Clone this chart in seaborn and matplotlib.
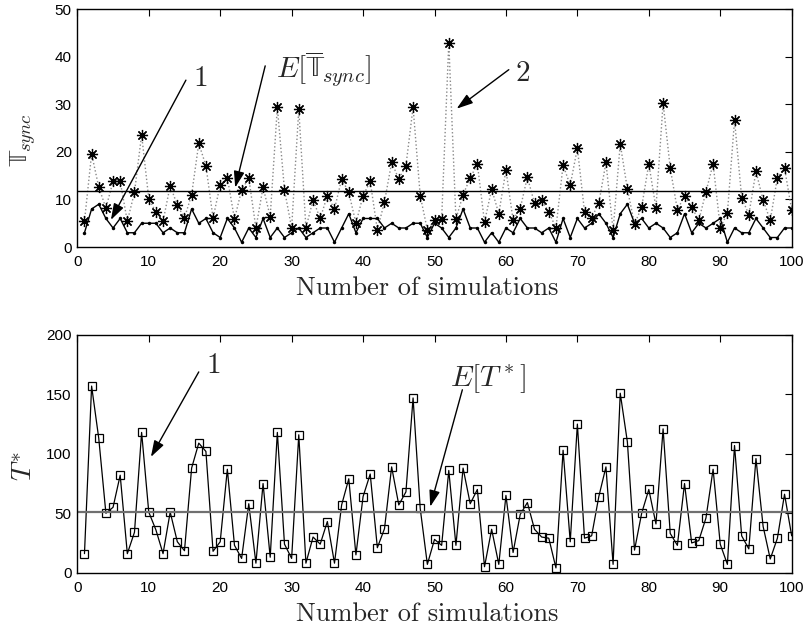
import numpy as np
import pandas as pd
import matplotlib
matplotlib.use('Agg')
import matplotlib.pyplot as plt
import seaborn as sns

# simulation index
sims = np.arange(1, 101)

# T_sync per simulation (asterisks, dotted)
t_sync = [5.4, 19.6, 12.6, 8.2, 13.8, 13.8, 5.4, 11.5, 23.6, 10.2,
          7.3, 5.4, 12.9, 8.8, 6.1, 11.0, 21.8, 17.1, 6.1, 13.1,
          14.6, 5.9, 12.0, 14.5, 4.0, 12.6, 6.4, 29.4, 12.0, 4.0,
          29.0, 4.0, 9.9, 6.0, 10.8, 8.0, 14.3, 11.5, 5.0, 10.8,
          13.8, 3.6, 9.5, 17.8, 14.3, 17.1, 29.4, 10.8, 3.6, 5.6,
          5.9, 43.0, 5.9, 11.0, 14.5, 17.5, 5.2, 12.2, 7.0, 16.2,
          5.7, 8.1, 14.7, 9.2, 9.9, 7.4, 4.0, 17.2, 13.0, 20.8,
          7.4, 6.2, 9.2, 17.8, 3.5, 21.7, 12.2, 4.8, 8.4, 17.5,
          8.2, 30.3, 16.6, 7.8, 10.8, 8.4, 5.6, 11.6, 17.5, 4.1,
          7.1, 26.7, 10.4, 6.8, 15.9, 9.9, 5.6, 14.6, 16.6, 7.8]

# lower curve (solid line with dots)
t_low = [3, 8, 9, 6, 4, 6, 3, 3, 5, 5,
         5, 3, 4, 3, 3, 8, 5, 6, 3, 2,
         6, 4, 1, 4, 2, 6, 2, 4, 2, 3,
         4, 2, 3, 4, 4, 1, 4, 7, 3, 6,
         6, 6, 4, 5, 4, 4, 5, 5, 2, 5,
         4, 2, 4, 8, 4, 4, 1, 3, 1, 4,
         3, 6, 4, 4, 3, 4, 1, 6, 2, 6,
         4, 5, 7, 5, 2, 7, 9, 5, 6, 4,
         5, 4, 2, 3, 7, 3, 5, 4, 5, 6,
         1, 4, 3, 3, 6, 4, 2, 2, 4, 4]

# T* per simulation (squares)
t_star = [16, 157, 113, 50, 55, 82, 16, 34, 118, 51,
          36, 16, 51, 26, 18.5, 88, 109, 102, 18, 26,
          87, 23, 12, 58, 8, 75, 13, 118, 24, 12,
          116, 8, 30, 24, 43, 8, 57, 79, 15, 64,
          83, 21, 37, 89, 57, 68, 147, 54, 7, 28,
          23, 86, 23, 88, 58, 70, 5, 36.5, 7, 65,
          17, 49, 59, 36.5, 30, 29, 4, 103, 26, 125,
          29, 31, 64, 89, 7, 151, 110, 19, 50, 70,
          41, 121, 33, 23, 75, 25, 27, 46, 87, 24,
          7, 107, 31, 20, 96, 39, 11.5, 29, 66, 31]

df = pd.DataFrame({'sim': sims, 't_sync': t_sync, 't_low': t_low, 't_star': t_star})

sns.set_style('white')
plt.rcParams['font.family'] = ['Liberation Sans', 'DejaVu Sans']
plt.rcParams['mathtext.fontset'] = 'cm'

fig, (ax1, ax2) = plt.subplots(2, 1, figsize=(8.08, 6.33), dpi=100)
fig.subplots_adjust(left=0.0957, right=0.9798, top=0.9853, bottom=0.0953, hspace=0.37)

arrow = dict(arrowstyle='-|>,head_length=0.55,head_width=0.18', color='k', lw=1,
             mutation_scale=18, shrinkA=0, shrinkB=0)
lbl_font = dict(fontfamily='cmr10', fontsize=19)

# ---- top panel ----
sns.lineplot(data=df, x='sim', y='t_sync', ax=ax1, color='#888888', lw=1, linestyle=':',
             marker=(8, 2, 0), markersize=8, markeredgecolor='k', markeredgewidth=0.9)
sns.lineplot(data=df, x='sim', y='t_low', ax=ax1, color='k', lw=1,
             marker='o', markersize=2.5, markeredgewidth=0)
ax1.axhline(np.mean(t_sync), color='k', lw=1)

ax1.set_xlim(0, 100)
ax1.set_ylim(0, 50)
ax1.set_xticks(range(0, 101, 10))
ax1.set_yticks(range(0, 51, 10))
ax1.set_xlabel('Number of simulations', **lbl_font)
ax1.set_ylabel(r'$\mathrm{\mathbb{T}}_{sync}$', fontsize=19)

ax1.text(17.2, 35.6, r'$1$', fontsize=21, ha='center', va='center')
ax1.annotate('', xy=(4.7, 5.7), xytext=(15.2, 35.1), arrowprops=arrow)
ax1.text(34.5, 37.5, r'$E[\overline{\mathrm{\mathbb{T}}}_{sync}]$', fontsize=21,
         ha='center', va='center')
ax1.annotate('', xy=(22.1, 12.5), xytext=(26.3, 38.1), arrowprops=arrow)
ax1.text(62.3, 36.6, r'$2$', fontsize=21, ha='center', va='center')
ax1.annotate('', xy=(53.1, 29.1), xytext=(60.4, 37.3), arrowprops=arrow)

# ---- bottom panel ----
sns.lineplot(data=df, x='sim', y='t_star', ax=ax2, color='k', lw=0.9,
             marker='s', markersize=6, markerfacecolor='none',
             markeredgecolor='k', markeredgewidth=0.9)
ax2.axhline(np.mean(t_star), color='#707070', lw=1.6)

ax2.set_xlim(0, 100)
ax2.set_ylim(0, 200)
ax2.set_xticks(range(0, 101, 10))
ax2.set_yticks(range(0, 201, 50))
ax2.set_xlabel('Number of simulations', **lbl_font)
ax2.set_ylabel(r'$T^{*}$', fontsize=20)

ax2.text(19.0, 174.8, r'$1$', fontsize=21, ha='center', va='center')
ax2.annotate('', xy=(10.3, 97.4), xytext=(17.0, 168.9), arrowprops=arrow)
ax2.text(57.5, 163, r'$E[T^*]$', fontsize=21, ha='center', va='center')
ax2.annotate('', xy=(49.4, 55.5), xytext=(53.9, 153.9), arrowprops=arrow)

for ax in (ax1, ax2):
    ax.tick_params(direction='in', top=True, right=True, length=5, width=0.8,
                   labelsize=11, colors='k', pad=6)
    ax.tick_params(axis='y', pad=4)
    for sp in ax.spines.values():
        sp.set_color('k')
        sp.set_linewidth(1)
    ax.xaxis.set_label_coords(0.49, -0.125)
    ax.yaxis.set_label_coords(-0.055, 0.45)

fig.savefig('out.png', dpi=100)
